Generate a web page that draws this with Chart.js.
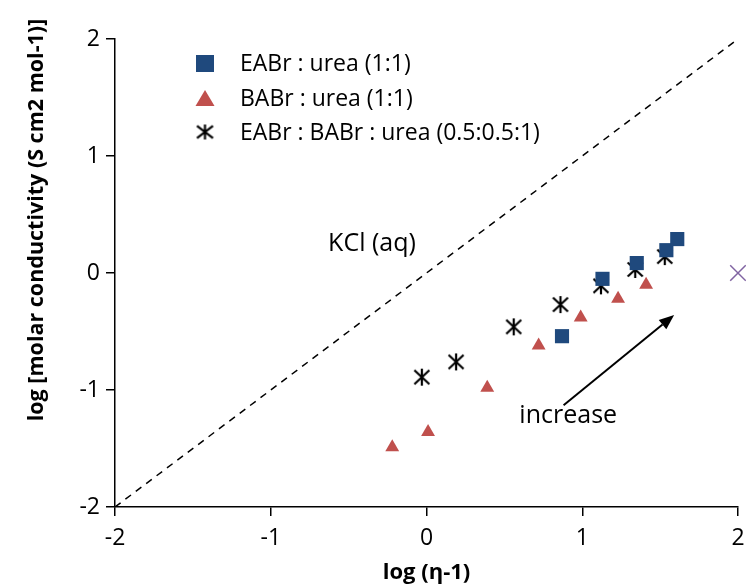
<!DOCTYPE html>
<html>
<head>
<meta charset="utf-8">
<script src="https://cdn.jsdelivr.net/npm/chart.js@4.4.1/dist/chart.umd.min.js"></script>
<style>
  html, body { margin: 0; padding: 0; background: #fff; }
  #wrap { width: 746px; height: 586px; }
</style>
</head>
<body>
<div id="wrap"><canvas id="chart" width="746" height="586"></canvas></div>
<script>
// data: [log(eta-1), log(molar conductivity)]
const eabrX = [0.87, 1.13, 1.35, 1.54, 1.61];
const eabrY = [-0.54, -0.05, 0.085, 0.195, 0.29];

const babrX = [-0.22, 0.01, 0.39, 0.72, 0.99, 1.23, 1.41];
const babrY = [-1.49, -1.36, -0.98, -0.62, -0.38, -0.22, -0.10];

const mixX = [-0.03, 0.19, 0.56, 0.86, 1.12, 1.34, 1.53];
const mixY = [-0.89, -0.76, -0.46, -0.27, -0.11, 0.03, 0.14];

const kclX = [2];
const kclY = [0];

const refLineX = [-2, 2];
const refLineY = [-2, 2];

const tickValues = [-2, -1, 0, 1, 2];

const seriesNames = ['EABr : urea (1:1)', 'BABr : urea (1:1)', 'EABr : BABr : urea (0.5:0.5:1)'];
const yTitle = 'log [molar conductivity (S cm2 mol-1)]';

// annotation anchors in data units
const kclLabel = { text: 'KCl (aq)', x: -0.35, y: 0.25 };
const arrowFrom = [0.88, -1.13];
const arrowTo = [1.59, -0.36];
const arrowLabel = { text: 'increase', x: 0.91, y: -1.22 };

const FONT = '"Open Sans", sans-serif';
const BLUE = '#1F497D';
const RED = '#C0504D';
const PURPLE = '#8064A2';

function pts(xs, ys) {
  return xs.map((x, i) => ({ x: x, y: ys[i] }));
}

// six-armed asterisk marker
function makeAsterisk(w, h) {
  const c = document.createElement('canvas');
  c.width = w; c.height = h;
  const g = c.getContext('2d');
  const mx = w / 2, my = h / 2;
  const rx = w / 2 - 1.5, ry = h / 2 - 1;
  g.strokeStyle = '#000';
  g.lineWidth = 2.2;
  g.beginPath();
  g.moveTo(mx, my - ry); g.lineTo(mx, my + ry);
  const dy = ry * 0.82;
  g.moveTo(mx - rx, my - dy); g.lineTo(mx + rx, my + dy);
  g.moveTo(mx + rx, my - dy); g.lineTo(mx - rx, my + dy);
  g.stroke();
  return c;
}
const asterisk = makeAsterisk(18, 19);
const legendAsterisk = makeAsterisk(19, 17);

const legendPlugin = {
  id: 'boxLegend',
  afterDraw(chart) {
    const ctx = chart.ctx;
    const top = chart.chartArea.top;
    const left = chart.chartArea.left;
    const rows = [top + 24, top + 59, top + 93];
    ctx.save();
    ctx.font = '23px ' + FONT;
    ctx.fillStyle = '#000';
    ctx.textBaseline = 'middle';
    rows.forEach((y, i) => {
      const mx = left + 90;
      if (i === 0) {
        ctx.fillStyle = BLUE;
        ctx.fillRect(mx - 9, y - 8, 18, 17);
      } else if (i === 1) {
        ctx.fillStyle = RED;
        ctx.beginPath();
        ctx.moveTo(mx, y - 8);
        ctx.lineTo(mx + 9.5, y + 8);
        ctx.lineTo(mx - 9.5, y + 8);
        ctx.closePath();
        ctx.fill();
      } else {
        ctx.drawImage(legendAsterisk, mx - 9.5, y - 8.5);
      }
      ctx.fillStyle = '#000';
      ctx.fillText(seriesNames[i], left + 125, y + 1);
    });
    ctx.restore();
  }
};

const notesPlugin = {
  id: 'notes',
  afterDatasetsDraw(chart) {
    const ctx = chart.ctx;
    const xs = chart.scales.x, ys = chart.scales.y;
    ctx.save();
    ctx.font = '25px ' + FONT;
    ctx.fillStyle = '#000';
    ctx.textAlign = 'center';
    ctx.textBaseline = 'middle';
    ctx.fillText(kclLabel.text, xs.getPixelForValue(kclLabel.x), ys.getPixelForValue(kclLabel.y));
    ctx.fillText(arrowLabel.text, xs.getPixelForValue(arrowLabel.x), ys.getPixelForValue(arrowLabel.y));

    const x1 = xs.getPixelForValue(arrowFrom[0]), y1 = ys.getPixelForValue(arrowFrom[1]);
    const x2 = xs.getPixelForValue(arrowTo[0]), y2 = ys.getPixelForValue(arrowTo[1]);
    const a = Math.atan2(y2 - y1, x2 - x1);
    const hl = 15, hw = 6;
    const bx = x2 - hl * Math.cos(a), by = y2 - hl * Math.sin(a);
    ctx.strokeStyle = '#000';
    ctx.lineWidth = 2;
    ctx.beginPath();
    ctx.moveTo(x1, y1);
    ctx.lineTo(bx, by);
    ctx.stroke();
    ctx.beginPath();
    ctx.moveTo(x2, y2);
    ctx.lineTo(bx + hw * Math.sin(a), by - hw * Math.cos(a));
    ctx.lineTo(bx - hw * Math.sin(a), by + hw * Math.cos(a));
    ctx.closePath();
    ctx.fill();

    // y axis title, placed as in the original (above the axis middle)
    ctx.save();
    ctx.translate(37, 220);
    ctx.rotate(-Math.PI / 2);
    ctx.font = 'bold 21.5px ' + FONT;
    ctx.fillText(yTitle, 0, 0);
    ctx.restore();
    ctx.restore();
  }
};

const ctx = document.getElementById('chart').getContext('2d');
new Chart(ctx, {
  type: 'scatter',
  data: {
    datasets: [
      {
        label: 'KCl line',
        data: pts(refLineX, refLineY),
        showLine: true,
        borderColor: '#000',
        borderWidth: 1.5,
        borderDash: [7, 6],
        pointRadius: 0,
        fill: false
      },
      {
        label: seriesNames[0],
        data: pts(eabrX, eabrY),
        pointStyle: 'rect',
        pointRadius: 10,
        backgroundColor: BLUE,
        borderColor: BLUE,
        borderWidth: 0
      },
      {
        label: seriesNames[1],
        data: pts(babrX, babrY),
        pointStyle: 'triangle',
        pointRadius: 8,
        backgroundColor: RED,
        borderColor: RED,
        borderWidth: 0
      },
      {
        label: seriesNames[2],
        data: pts(mixX, mixY),
        pointStyle: asterisk,
        pointRadius: 9
      },
      {
        label: 'KCl',
        data: pts(kclX, kclY),
        pointStyle: 'crossRot',
        pointRadius: 11,
        borderColor: PURPLE,
        borderWidth: 1.5,
        clip: false
      }
    ]
  },
  options: {
    responsive: false,
    animation: false,
    layout: { autoPadding: false, padding: { top: 39, right: 8, left: 0, bottom: 0 } },
    plugins: {
      legend: { display: false },
      tooltip: { enabled: false }
    },
    scales: {
      x: {
        type: 'linear',
        min: -2,
        max: 2,
        afterBuildTicks(scale) { scale.ticks = tickValues.map(v => ({ value: v })); },
        afterFit(scale) { scale.height = 79; scale.paddingLeft = 0; scale.paddingRight = 0; },
        grid: { drawOnChartArea: false, drawTicks: true, tickLength: 9, color: '#000', lineWidth: 1.5 },
        border: { display: true, color: '#000', width: 1.5 },
        ticks: { color: '#000', font: { family: FONT, size: 23 }, padding: 9 },
        title: {
          display: true,
          text: 'log (η-1)',
          color: '#000',
          font: { family: FONT, size: 22, weight: 'bold' },
          padding: { top: 0, bottom: 0 }
        }
      },
      y: {
        type: 'linear',
        min: -2,
        max: 2,
        afterBuildTicks(scale) { scale.ticks = tickValues.map(v => ({ value: v })); },
        afterFit(scale) { scale.width = 115; scale.paddingTop = 0; scale.paddingBottom = 0; },
        grid: { drawOnChartArea: false, drawTicks: true, tickLength: 9, color: '#000', lineWidth: 1.5 },
        border: { display: true, color: '#000', width: 1.5 },
        ticks: { color: '#000', font: { family: FONT, size: 23 }, padding: 6 },
        title: { display: false }
      }
    }
  },
  plugins: [legendPlugin, notesPlugin]
});
</script>
</body>
</html>
